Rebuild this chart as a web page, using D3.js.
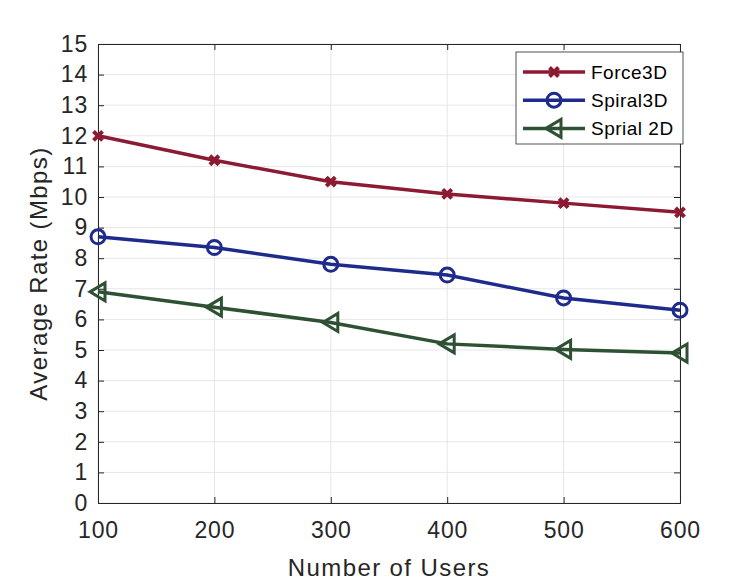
<!DOCTYPE html>
<html>
<head>
<meta charset="utf-8">
<script src="https://cdn.jsdelivr.net/npm/d3@7"></script>
<style>
  body { margin: 0; background: #fff; }
  svg text { font-family: "Liberation Sans", Arial, Helvetica, sans-serif; fill: #262626; }
</style>
</head>
<body>
<svg id="chart" width="752" height="581"></svg>
<script>
// data
const users = [100, 200, 300, 400, 500, 600];
const force3D = [12.0, 11.2, 10.5, 10.1, 9.8, 9.5];
const spiral3D = [8.7, 8.35, 7.8, 7.45, 6.7, 6.3];
const sprial2D = [6.9, 6.4, 5.9, 5.2, 5.02, 4.9];
const xTicks = [100, 200, 300, 400, 500, 600];
const yTicks = d3.range(0, 16);

const series = [
  { name: "Force3D", values: force3D, color: "#8c1a32", marker: "x" },
  { name: "Spiral3D", values: spiral3D, color: "#1f2b8c", marker: "o" },
  { name: "Sprial 2D", values: sprial2D, color: "#2e5134", marker: "<" }
];

const margin = { left: 98, right: 72, top: 44, bottom: 78 };
const width = 752, height = 581;
const svg = d3.select("#chart");

const x = d3.scaleLinear().domain([100, 600]).range([margin.left, width - margin.right]);
const y = d3.scaleLinear().domain([0, 15]).range([height - margin.bottom, margin.top]);

// grid
svg.append("g")
  .selectAll("line.gx")
  .data(xTicks)
  .join("line")
  .attr("x1", d => x(d)).attr("x2", d => x(d))
  .attr("y1", y(0)).attr("y2", y(15))
  .attr("stroke", "#e6e6e6").attr("stroke-width", 1);
svg.append("g")
  .selectAll("line.gy")
  .data(yTicks)
  .join("line")
  .attr("x1", x(100)).attr("x2", x(600))
  .attr("y1", d => y(d)).attr("y2", d => y(d))
  .attr("stroke", "#e6e6e6").attr("stroke-width", 1);

// axes, ticks inside
const axisColor = "#262626";
const tickLen = 6;
const xAxis = svg.append("g")
  .attr("transform", `translate(0,${y(0)})`)
  .call(d3.axisBottom(x).tickValues(xTicks).tickSize(-tickLen).tickPadding(19));
const yAxis = svg.append("g")
  .attr("transform", `translate(${x(100)},0)`)
  .call(d3.axisLeft(y).tickValues(yTicks).tickSize(-tickLen).tickPadding(10));
const xTop = svg.append("g")
  .attr("transform", `translate(0,${y(15)})`)
  .call(d3.axisTop(x).tickValues(xTicks).tickSize(-tickLen).tickFormat(""));
const yRight = svg.append("g")
  .attr("transform", `translate(${x(600)},0)`)
  .call(d3.axisRight(y).tickValues(yTicks).tickSize(-tickLen).tickFormat(""));

[xAxis, yAxis, xTop, yRight].forEach(g => {
  g.selectAll("path.domain").attr("stroke", axisColor).attr("stroke-width", 1);
  g.selectAll(".tick line").attr("stroke", axisColor);
  g.selectAll(".tick text")
    .attr("fill", axisColor)
    .style("font-family", '"Liberation Sans", Arial, sans-serif')
    .style("font-size", "23px")
    .style("letter-spacing", "0.8px");
});

// axis titles
svg.append("text")
  .attr("x", (x(100) + x(600)) / 2)
  .attr("y", 576)
  .attr("text-anchor", "middle")
  .style("font-size", "24px")
  .style("letter-spacing", "1.4px")
  .text("Number of Users");
svg.append("text")
  .attr("transform", `translate(47,${(y(0) + y(15)) / 2}) rotate(-90)`)
  .attr("text-anchor", "middle")
  .style("font-size", "24px")
  .style("letter-spacing", "1.4px")
  .text("Average Rate (Mbps)");

// markers
function drawMarker(g, type, color) {
  if (type === "x") {
    g.append("path")
      .attr("d", "M-4.5,-4.5L4.5,4.5M-4.5,4.5L4.5,-4.5")
      .attr("stroke", color).attr("stroke-width", 4).attr("fill", "none");
  } else if (type === "o") {
    g.append("circle").attr("r", 7)
      .attr("stroke", color).attr("stroke-width", 3).attr("fill", "none");
  } else {
    g.append("path")
      .attr("d", "M-8,0L7,-9L7,9Z")
      .attr("stroke", color).attr("stroke-width", 3).attr("fill", "none")
      .attr("stroke-linejoin", "miter");
  }
}

const line = d3.line().x(d => x(d[0])).y(d => y(d[1]));
series.forEach(s => {
  const pts = users.map((u, i) => [u, s.values[i]]);
  svg.append("path")
    .datum(pts)
    .attr("d", line)
    .attr("fill", "none")
    .attr("stroke", s.color)
    .attr("stroke-width", 3.5);
  svg.append("g")
    .selectAll("g")
    .data(pts)
    .join("g")
    .attr("transform", d => `translate(${x(d[0])},${y(d[1])})`)
    .each(function () { drawMarker(d3.select(this), s.marker, s.color); });
});

// legend
const legend = svg.append("g").attr("transform", "translate(516,52)");
legend.append("rect")
  .attr("width", 167).attr("height", 92)
  .attr("fill", "#fff").attr("stroke", "#262626").attr("stroke-width", 0.8);
series.forEach((s, i) => {
  const row = legend.append("g").attr("transform", `translate(0,${20 + i * 28.2})`);
  row.append("line")
    .attr("x1", 7).attr("x2", 69)
    .attr("stroke", s.color).attr("stroke-width", 3.5);
  const m = row.append("g").attr("transform", "translate(38,0)");
  drawMarker(m, s.marker, s.color);
  row.append("text")
    .attr("x", 75).attr("y", 6.5)
    .style("font-size", "19px")
    .style("letter-spacing", "0.5px")
    .style("fill", "#000")
    .text(s.name);
});
</script>
</body>
</html>
